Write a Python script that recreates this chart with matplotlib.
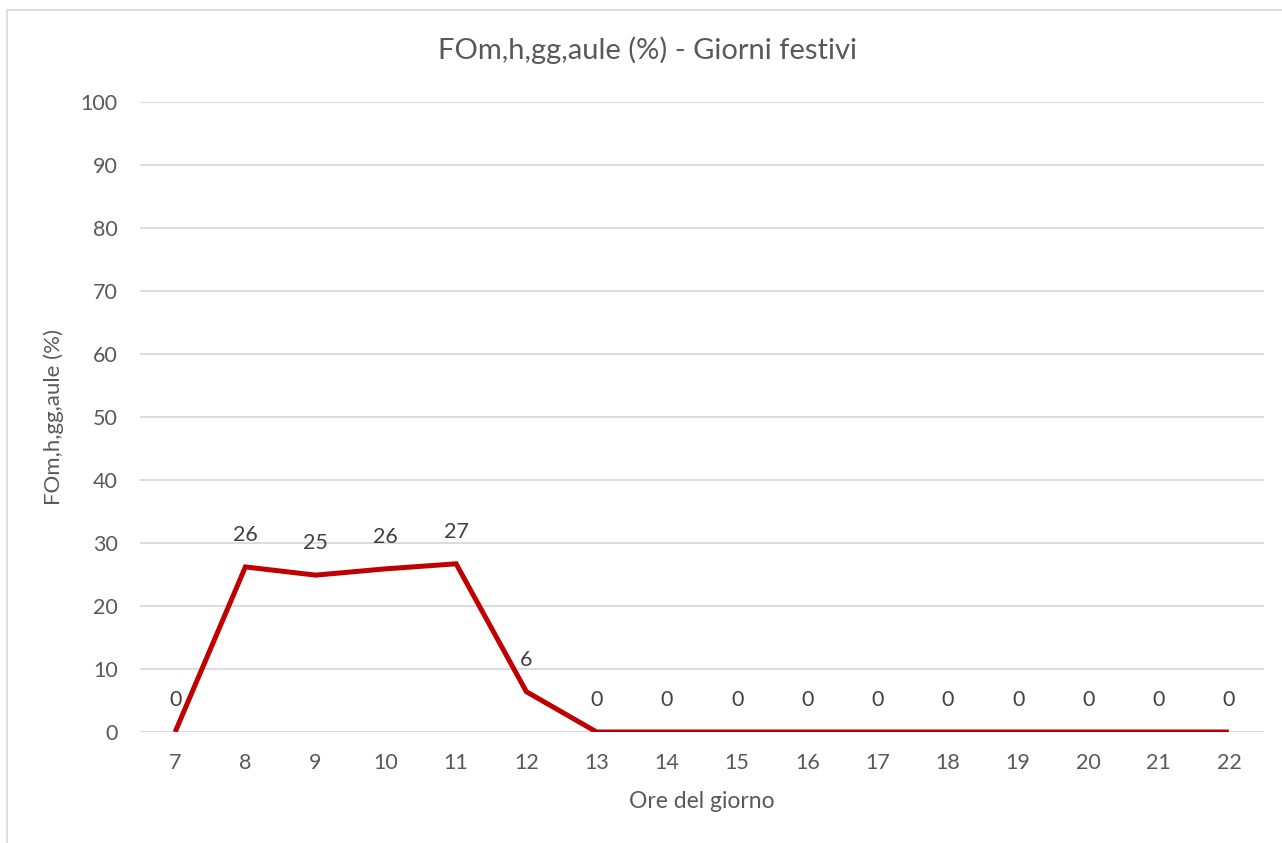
import matplotlib.pyplot as plt
from matplotlib.patches import Rectangle

# Hourly occupancy factor on holidays
hours = [7, 8, 9, 10, 11, 12, 13, 14, 15, 16, 17, 18, 19, 20, 21, 22]
fo_values = [0, 26.2, 24.9, 25.9, 26.7, 6.4, 0, 0, 0, 0, 0, 0, 0, 0, 0, 0]

TEXT = "#595959"
GRID = "#D9D9D9"
LINE = "#C00000"

plt.rcParams["font.family"] = ["Lato", "DejaVu Sans"]

fig = plt.figure(figsize=(12.82, 8.43), dpi=100)
ax = fig.add_axes([140 / 1282, 111 / 843, 1124 / 1282, 630 / 843])

# light chart frame
fig.patches.append(Rectangle((7 / 1282, -0.05), 1.1, (843 - 10) / 843 + 0.05,
                             transform=fig.transFigure, fill=False,
                             edgecolor=GRID, linewidth=1.2))

ax.plot(hours, fo_values, color=LINE, linewidth=3.6, solid_joinstyle="miter",
        solid_capstyle="butt", zorder=3)

for h, v in zip(hours, fo_values):
    ax.annotate(f"{v:.0f}", (h, v), xytext=(0, 23), textcoords="offset points",
                ha="center", va="center", fontsize=15.5, color="#404040")

ax.set_xlim(6.5, 22.5)
ax.set_ylim(0, 100)
ax.set_xticks(hours)
ax.set_yticks(range(0, 101, 10))
ax.tick_params(length=0, labelsize=15.5, colors=TEXT)
ax.tick_params(axis="x", pad=15)
ax.tick_params(axis="y", pad=16)
ax.grid(axis="y", color=GRID, linewidth=1.3)
ax.set_axisbelow(True)
for s in ax.spines.values():
    s.set_visible(False)

fig.text(648 / 1282, 1 - 50 / 843, "FOm,h,gg,aule (%) - Giorni festivi",
         fontsize=21, color=TEXT, ha="center", va="center")
ax.set_xlabel("Ore del giorno", fontsize=16.5, color=TEXT, labelpad=13)
ax.set_ylabel("FOm,h,gg,aule (%)", fontsize=16, color=TEXT, labelpad=12)

fig.savefig("out.png", dpi=100)
